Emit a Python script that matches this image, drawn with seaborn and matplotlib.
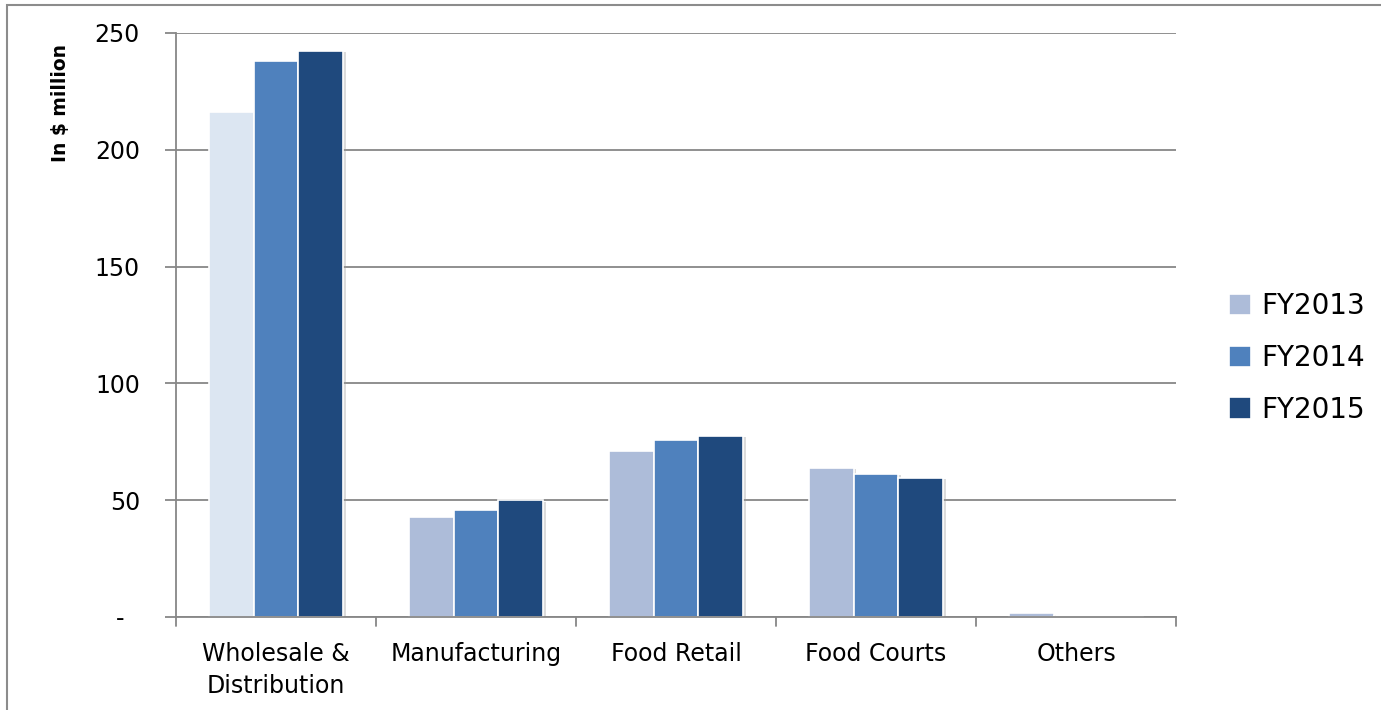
import numpy as np
import pandas as pd
import matplotlib
matplotlib.use("Agg")
import matplotlib.pyplot as plt
import matplotlib.patheffects as pe
from matplotlib.patches import Rectangle
import seaborn as sns

# Data
categories = ["Wholesale &\nDistribution", "Manufacturing", "Food Retail", "Food Courts", "Others"]
years = ["FY2013", "FY2014", "FY2015"]
fy2013 = [216, 42.8, 71, 63.8, 1.5]
fy2014 = [238, 45.8, 75.8, 61.2, 0.3]
fy2015 = [242.3, 50, 77.5, 59.5, 0.3]
yticks = [0, 50, 100, 150, 200, 250]
ytick_labels = ["-  ", "50", "100", "150", "200", "250"]

colors = ["#adbcd9", "#4f81bd", "#1f497d"]

df = pd.DataFrame({
    "category": categories * 3,
    "year": np.repeat(years, len(categories)),
    "value": fy2013 + fy2014 + fy2015,
})

sns.set_theme(style="white")
plt.rcParams['font.family'] = ['DejaVu Sans']
plt.rcParams['text.color'] = 'black'
plt.rcParams['xtick.labelcolor'] = 'black'
plt.rcParams['ytick.labelcolor'] = 'black'
plt.rcParams['axes.labelcolor'] = 'black'

fig = plt.figure(figsize=(13.81, 7.10), dpi=100)
ax = fig.add_axes([176/1381, 1 - 617/710, 1000/1381, 584/710])

sns.barplot(data=df, x="category", y="value", hue="year", order=categories,
            hue_order=years, palette=colors, saturation=1, width=0.67, ax=ax,
            edgecolor="white", linewidth=1.2, legend=True)

# first bar of wholesale is lighter in the reference
ax.containers[0][0].set_facecolor("#dce6f2")

for cont in ax.containers:
    for bar in cont:
        bar.set_path_effects([pe.SimplePatchShadow(offset=(2, -1), shadow_rgbFace="#999999", alpha=0.35),
                              pe.Normal()])

ax.set_ylim(0, 250)
ax.set_xlim(-0.5, len(categories) - 0.5)
ax.set_yticks(yticks)
ax.set_yticklabels(ytick_labels, fontsize=17)
ax.yaxis.grid(True, color="#878787", linewidth=1.3)
ax.set_axisbelow(True)

# category boundary ticks on x
ax.set_xticks(np.arange(len(categories)))
ax.set_xticklabels(categories, fontsize=17, linespacing=1.4)
ax.tick_params(axis="x", length=0, pad=18)
for xb in np.arange(-0.5, len(categories), 1.0):
    ax.plot([xb, xb], [0, -4], color="#878787", lw=1.3, clip_on=False)
ax.tick_params(axis="y", length=8, width=1.3, color="#878787", direction="out", left=True, pad=18)

for s in ["top", "right"]:
    ax.spines[s].set_visible(False)
for s in ["left", "bottom"]:
    ax.spines[s].set_color("#878787")
    ax.spines[s].set_linewidth(1.3)

ax.set_xlabel("")
ax.set_ylabel("In $ million", fontsize=13.5, weight="bold")
ax.yaxis.set_label_coords(-0.106, 0.88)

leg = ax.legend(loc="center left", bbox_to_anchor=(1.028, 0.4435), frameon=False,
                fontsize=20, handlelength=0.8, handleheight=0.8, handletextpad=0.35,
                labelspacing=0.85)

# outer frame of the picture
fig.patches.append(Rectangle((7/1381, -0.1), 1.2, 1 - 5/710 + 0.1, transform=fig.transFigure,
                             fill=False, edgecolor="#8c8c8c", linewidth=1.5))

fig.savefig("out.png", dpi=100)
